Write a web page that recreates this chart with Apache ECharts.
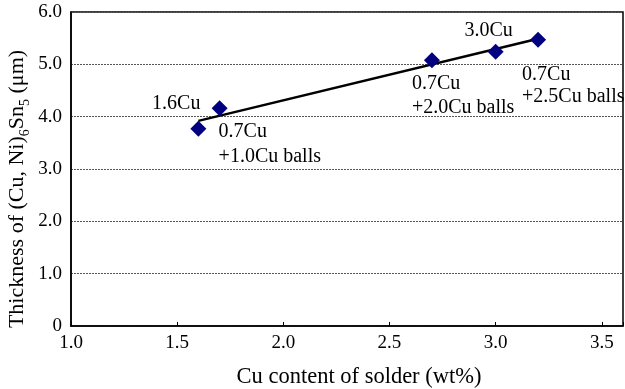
<!DOCTYPE html>
<html>
<head>
<meta charset="utf-8">
<script src="https://cdn.jsdelivr.net/npm/echarts@6/dist/echarts.min.js"></script>
<style>
  html, body { margin: 0; padding: 0; background: #fff; }
  #chart { width: 625px; height: 389px; }
</style>
</head>
<body>
<div id="chart"></div>
<script>
// Cu content of solder (wt%) for each joint
const cuContent = [1.6, 1.7, 2.7, 3.0, 3.2];
// Measured (Cu, Ni)6Sn5 thickness (μm)
const thickness = [3.77, 4.16, 5.08, 5.24, 5.47];
// Solder composition labels
const sampleNames = ['1.6Cu', '0.7Cu\n+1.0Cu balls', '0.7Cu\n+2.0Cu balls', '3.0Cu', '0.7Cu\n+2.5Cu balls'];
// Linear fit endpoints
const fitX = [1.6, 3.2];
const fitY = [3.92, 5.49];
// Axis tick values
const xTicks = ['1.0', '1.5', '2.0', '2.5', '3.0', '3.5'];
const yTicks = ['0', '1.0', '2.0', '3.0', '4.0', '5.0', '6.0'];

const serif = '"Liberation Serif", "Times New Roman", serif';

// Label anchoring around each marker (offsets from the marker centre)
const labelPos = [
  { offset: [2, -25], align: 'right', verticalAlign: 'middle', lineHeight: 24 },
  { offset: [-1, 11], align: 'left', verticalAlign: 'top', lineHeight: 25 },
  { offset: [-20, 12], align: 'left', verticalAlign: 'top', lineHeight: 24 },
  { offset: [-7, -21], align: 'center', verticalAlign: 'middle', lineHeight: 24 },
  { offset: [-16, 24], align: 'left', verticalAlign: 'top', lineHeight: 22 }
];

const points = cuContent.map((x, i) => ({
  value: [x, thickness[i]],
  label: {
    show: true,
    formatter: sampleNames[i],
    position: 'inside',
    offset: labelPos[i].offset,
    align: labelPos[i].align,
    verticalAlign: labelPos[i].verticalAlign,
    fontFamily: serif,
    fontSize: 20,
    lineHeight: labelPos[i].lineHeight,
    color: '#000'
  }
}));

const chart = echarts.init(document.getElementById('chart'), null, { renderer: 'canvas' });
chart.setOption({
  animation: false,
  backgroundColor: '#fff',
  grid: {
    left: 71, top: 12, right: 2, bottom: 63,
    outerBoundsMode: 'none',
    containLabel: false,
    show: true, borderColor: '#000', borderWidth: 1.5, backgroundColor: 'transparent'
  },
  xAxis: {
    type: 'value',
    min: 1.0, max: 3.6, interval: 0.5,
    name: 'Cu content of solder (wt%)',
    nameLocation: 'middle', nameGap: 40,
    nameMoveOverlap: false,
    nameTextStyle: { fontFamily: serif, fontSize: 22.5, color: '#000', padding: [0, 0, 0, 24] },
    axisLine: { show: true, onZero: false, lineStyle: { color: '#000', width: 1.5 } },
    axisTick: { show: true, inside: true, length: 4, lineStyle: { color: '#000' } },
    axisLabel: {
      fontFamily: serif, fontSize: 19, color: '#000', margin: 8,
      formatter: v => {
        const s = v.toFixed(1);
        return xTicks.includes(s) ? s : '';
      }
    },
    splitLine: { show: false }
  },
  yAxis: {
    type: 'value',
    min: 0, max: 6, interval: 1,
    name: '{n|Thickness of (Cu, Ni)}{s|6}{n|Sn}{s|5}{n| (μm)}',
    nameLocation: 'middle', nameGap: 43,
    nameMoveOverlap: false,
    nameTextStyle: {
      fontFamily: serif, fontSize: 22, color: '#000',
      padding: [0, 40, 0, 0],
      rich: {
        n: { fontFamily: serif, fontSize: 22, color: '#000', lineHeight: 26, verticalAlign: 'bottom' },
        s: { fontFamily: serif, fontSize: 14, color: '#000', lineHeight: 26, verticalAlign: 'bottom', padding: [0, 0, -4, 0] }
      }
    },
    axisLine: { show: true, lineStyle: { color: '#000', width: 1.5 } },
    axisTick: { show: false },
    axisLabel: {
      fontFamily: serif, fontSize: 19, color: '#000', margin: 9,
      formatter: v => yTicks[Math.round(v)]
    },
    splitLine: { show: true, lineStyle: { color: '#555', width: 1, type: [2, 1] } }
  },
  series: [
    {
      type: 'line',
      data: fitX.map((x, i) => [x, fitY[i]]),
      symbol: 'none',
      lineStyle: { color: '#000', width: 2.5 },
      z: 2
    },
    {
      type: 'scatter',
      data: points,
      symbol: 'diamond',
      symbolSize: [16, 16],
      itemStyle: { color: '#000080', opacity: 1 },
      z: 3
    }
  ]
});
</script>
</body>
</html>
